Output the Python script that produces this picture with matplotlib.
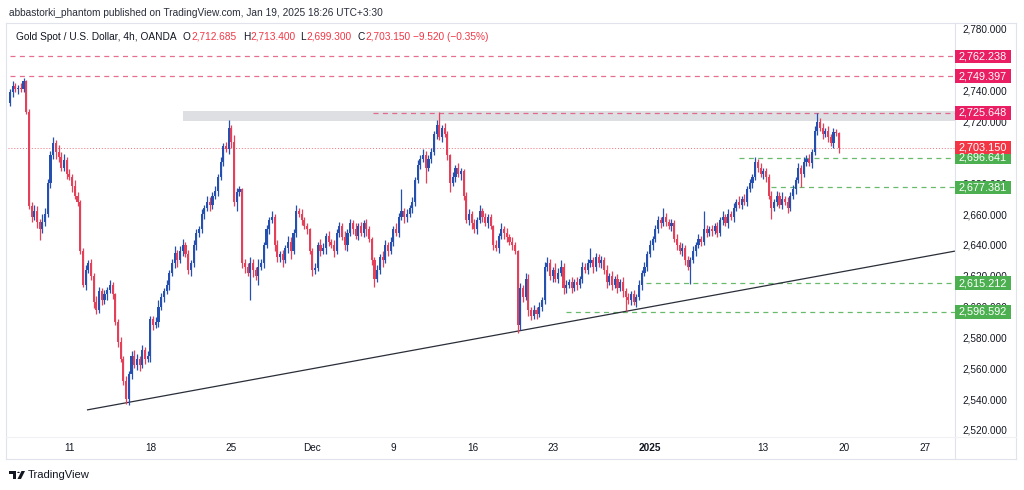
import matplotlib
matplotlib.use("Agg")
import matplotlib.pyplot as plt
from matplotlib.patches import Rectangle, Polygon, Circle
import numpy as np

plt.rcParams['font.family'] = ['Liberation Sans', 'DejaVu Sans']

# ---------------- data ----------------
first_open = 2732.0
closes = [
    2739, 2743, 2741, 2742, 2741, 2746, 2726, 2665, 2658, 2662,
    2655, 2650, 2655, 2660, 2680, 2698, 2706, 2700, 2697, 2690,
    2695, 2686, 2684, 2678, 2672, 2668, 2636, 2614, 2624, 2628,
    2620, 2603, 2598, 2610, 2604, 2608, 2611, 2614, 2608, 2590,
    2577, 2566, 2552, 2540, 2556, 2568, 2562, 2566, 2562, 2572,
    2566, 2568, 2592, 2588, 2590, 2600, 2606, 2610, 2614, 2622,
    2628, 2635, 2630, 2636, 2640, 2634, 2624, 2628, 2640, 2648,
    2650, 2660, 2664, 2668, 2666, 2672, 2675, 2684, 2694, 2704,
    2702, 2716, 2707, 2668, 2674, 2676, 2628, 2626, 2622, 2628,
    2624, 2620, 2626, 2628, 2640, 2650, 2656, 2658, 2640, 2632,
    2634, 2630, 2638, 2642, 2636, 2648, 2662, 2660, 2656, 2652,
    2650, 2636, 2624, 2625, 2640, 2636, 2638, 2646, 2642, 2640,
    2636, 2648, 2652, 2645, 2640, 2648, 2654, 2650, 2646, 2652,
    2648, 2654, 2650, 2644, 2630, 2618, 2624, 2632, 2630, 2640,
    2636, 2642, 2650, 2648, 2658, 2662, 2658, 2660, 2664, 2668,
    2682, 2692, 2696, 2698, 2690, 2696, 2700, 2712, 2718, 2710,
    2716, 2712, 2698, 2680, 2684, 2690, 2686, 2688, 2672, 2656,
    2660, 2654, 2650, 2656, 2662, 2658, 2654, 2658, 2652, 2640,
    2638, 2646, 2650, 2648, 2645, 2642, 2640, 2636, 2588, 2612,
    2606, 2618, 2598, 2594, 2598, 2595, 2600, 2604, 2626, 2628,
    2620, 2624, 2618, 2622, 2626, 2612, 2614, 2616, 2612, 2616,
    2614, 2618, 2626, 2624, 2628, 2630, 2626, 2632, 2628, 2630,
    2624, 2616, 2620, 2614, 2618, 2612, 2616, 2610, 2606, 2604,
    2608, 2603, 2606, 2614, 2622, 2626, 2634, 2640, 2644, 2650,
    2656, 2654, 2658, 2655, 2652, 2654, 2644, 2640, 2636, 2638,
    2630, 2626, 2630, 2636, 2640, 2644, 2642, 2650, 2648, 2650,
    2649, 2652, 2648, 2656, 2658, 2654, 2660, 2658, 2664, 2668,
    2666, 2670, 2668, 2676, 2680, 2684, 2694, 2690, 2686, 2688,
    2684, 2672, 2664, 2668, 2672, 2666, 2670, 2668, 2664, 2672,
    2676, 2682, 2690, 2686, 2694, 2696, 2693, 2700, 2714, 2720,
    2716, 2712, 2714, 2710, 2706, 2713, 2712.685, 2703.15,
]
upper_wick = [
    2, 3, 2, 2, 3, 2, 1, 2, 3, 4,
    3, 2, 5, 4, 3, 3, 4, 2, 5, 3,
    4, 2, 3, 2, 4, 2, 1, 2, 3, 2,
    3, 2, 4, 3, 2, 3, 2, 3, 2, 1,
    2, 3, 2, 3, 2, 3, 4, 3, 2, 3,
    2, 3, 2, 2, 3, 4, 3, 2, 3, 2,
    3, 4, 2, 3, 4, 2, 3, 2, 3, 2,
    2, 3, 2, 4, 3, 2, 3, 2, 3, 2,
    3, 5, 2, 4, 3, 2, 1, 3, 2, 4,
    3, 2, 5, 3, 2, 3, 2, 4, 2, 3,
    2, 3, 2, 4, 3, 2, 4, 2, 3, 2,
    2, 1, 2, 3, 2, 4, 3, 2, 3, 2,
    3, 2, 3, 2, 4, 2, 3, 2, 4, 2,
    3, 2, 3, 2, 1, 2, 3, 2, 4, 3,
    2, 3, 2, 4, 3, 14, 2, 3, 2, 3,
    2, 3, 2, 4, 3, 2, 3, 2, 3, 8,
    2, 3, 2, 1, 3, 2, 3, 2, 1, 2,
    3, 2, 3, 2, 4, 2, 3, 2, 2, 1,
    3, 2, 4, 2, 3, 2, 3, 2, 1, 3,
    2, 4, 3, 2, 3, 2, 3, 2, 3, 4,
    3, 2, 4, 3, 4, 2, 3, 2, 3, 2,
    3, 2, 3, 2, 3, 8, 2, 3, 2, 3,
    2, 3, 2, 3, 2, 3, 2, 3, 2, 3,
    2, 3, 2, 3, 2, 3, 2, 3, 2, 3,
    3, 2, 6, 3, 2, 3, 2, 3, 2, 3,
    2, 3, 2, 3, 2, 3, 2, 12, 3, 2,
    3, 2, 3, 2, 4, 2, 3, 2, 3, 2,
    4, 2, 3, 2, 3, 2, 3, 2, 3, 2,
    2, 2, 3, 2, 3, 2, 4, 2, 3, 2,
    3, 2, 3, 2, 3, 2, 3, 2, 3, 5.6,
    2, 3, 2, 3, 2, 3, 2, 0.715,
]
lower_wick = [
    2, 3, 2, 3, 2, 2, 1, 2, 3, 2,
    4, 7, 2, 3, 2, 3, 2, 4, 3, 2,
    2, 3, 2, 4, 2, 3, 2, 1, 3, 2,
    3, 4, 3, 2, 3, 2, 4, 2, 3, 2,
    3, 2, 3, 3, 4, 3, 2, 3, 4, 2,
    3, 2, 4, 3, 2, 3, 2, 3, 2, 3,
    2, 3, 4, 2, 3, 2, 3, 4, 2, 3,
    3, 2, 3, 2, 4, 3, 2, 3, 2, 3,
    2, 3, 4, 3, 6, 2, 3, 4, 2, 18,
    5, 3, 6, 2, 3, 2, 3, 2, 4, 3,
    3, 4, 2, 3, 5, 2, 3, 2, 3, 2,
    3, 2, 4, 3, 2, 3, 2, 4, 3, 2,
    4, 2, 3, 2, 3, 4, 2, 3, 2, 3,
    2, 3, 4, 2, 3, 5, 2, 3, 4, 2,
    3, 2, 3, 2, 3, 2, 4, 3, 2, 3,
    3, 2, 3, 2, 10, 2, 3, 2, 3, 2,
    3, 2, 3, 6, 2, 3, 2, 4, 3, 2,
    3, 4, 2, 3, 2, 3, 2, 3, 2, 3,
    2, 3, 2, 4, 3, 2, 3, 2, 5, 3,
    3, 2, 4, 3, 2, 3, 2, 3, 2, 3,
    3, 4, 2, 3, 2, 4, 3, 2, 3, 2,
    3, 2, 3, 2, 3, 2, 4, 3, 2, 3,
    3, 4, 2, 3, 2, 3, 2, 4, 9, 2,
    3, 2, 3, 2, 3, 2, 3, 2, 3, 2,
    2, 3, 2, 3, 2, 3, 2, 3, 2, 3,
    3, 2, 11.4, 2, 3, 2, 3, 2, 3, 2,
    3, 2, 3, 2, 3, 2, 3, 2, 3, 2,
    2, 3, 2, 3, 2, 3, 2, 3, 2, 3,
    3, 2, 7, 2, 3, 2, 3, 2, 3, 2,
    2, 3, 2, 8.6, 2, 3, 2, 3, 2, 3,
    2, 3, 2, 3, 2, 3, 2, 3.85,
]

time_tick_pos = [22, 52, 82, 112, 142, 171.5, 201, 237, 279, 309, 339]
time_tick_labels = ["11", "18", "25", "Dec", "9", "16", "23", "2025", "13", "20", "27"]
time_tick_bold = ["2025"]

# visible price-scale ticks (2,700 and 2,760 are fully hidden by labels in the reference)
price_ticks = [2520, 2540, 2560, 2580, 2600, 2620, 2640, 2660, 2680,
               2720, 2740, 2780]

level_prices = [2762.238, 2749.397, 2725.648, 2696.641, 2677.381, 2615.212, 2596.592]
level_starts = [0, 0, 134.5, 270, 282, 235.5, 206]
level_kinds = ["res", "res", "res", "sup", "sup", "sup", "sup"]

last_price = 2703.150
zone_low, zone_high, zone_start = 2720.5, 2726.8, 64
trend_x = [28.5, 350]
trend_y = [2533.0, 2636.0]

header_text = "abbastorki_phantom published on TradingView.com, Jan 19, 2025 18:26 UTC+3:30"
symbol_text = "Gold Spot / U.S. Dollar, 4h, OANDA"
ohlc_keys = ["O", "H", "L", "C"]
ohlc_vals = ["2,712.685", "2,713.400", "2,699.300", "2,703.150"]
change_text = "\u22129.520 (\u22120.35%)"

# ---------------- style ----------------
W, H = 1024, 490
UP = "#2650B0"
DOWN = "#E4405A"
PINK = "#E91E63"
REDLBL = "#F23645"
GREEN = "#4CAF50"
TXT = "#131722"
BORDER = "#E0E3EB"

fig = plt.figure(figsize=(W / 100, H / 100), dpi=100)
fig.patch.set_facecolor("white")

L_px, R_px, T_px, B_px = 8, 955, 23, 437
ax = fig.add_axes([L_px / W, 1 - B_px / H, (R_px - L_px) / W, (B_px - T_px) / H])
ax.set_facecolor("white")

px_per_unit = (430 - 29) / (2780 - 2520)
y_top = 2780 + (29 - T_px) / px_per_unit
y_bot = 2520 - (B_px - 430) / px_per_unit
ax.set_ylim(y_bot, y_top)
bar_px = 2.7
x_left = -(10 - L_px) / bar_px
x_right = (R_px - 10) / bar_px
ax.set_xlim(x_left, x_right)

# candles
c = np.array(closes, dtype=float)
o = np.concatenate([[first_open], c[:-1]])
hi = np.maximum(o, c) + np.array(upper_wick, dtype=float)
lo = np.minimum(o, c) - np.array(lower_wick, dtype=float)
x = np.arange(len(c))
cols = np.where(c >= o, UP, DOWN)

# zone
ax.add_patch(Rectangle((zone_start, zone_low), x_right - zone_start, zone_high - zone_low,
                       facecolor="#DEDFE3", edgecolor="none", zorder=1))

# horizontal levels
for p, s, k in zip(level_prices, level_starts, level_kinds):
    col = "#E2557A" if k == "res" else "#4CAF50"
    ax.plot([s, x_right], [p, p], color=col, lw=0.9, ls=(0, (4, 3.5)), zorder=2,
            alpha=0.85, snap=True)
ax.plot([x_left, x_right], [last_price, last_price], color="#F0707E", lw=0.7,
        ls=(0, (1, 2)), zorder=2)

# trend line
ax.plot(trend_x, trend_y, color="#2A2E39", lw=0.9, zorder=2, solid_capstyle="butt")

ax.vlines(x, lo, hi, colors=cols, lw=0.9, zorder=3)
body = np.maximum(np.abs(c - o), 0.6)
ax.bar(x, body, bottom=np.minimum(o, c), width=0.8, color=cols, linewidth=0, zorder=4)

# axes styling
for sp in ax.spines.values():
    sp.set_visible(False)
ax.yaxis.tick_right()
ax.set_yticks(price_ticks)
ax.set_yticklabels([f"{v:,.3f}" for v in price_ticks])
ax.tick_params(axis="y", length=0, pad=5.2, labelsize=7.2, labelcolor=TXT)
ax.set_xticks(time_tick_pos)
ax.set_xticklabels(time_tick_labels)
ax.tick_params(axis="x", length=0, pad=4.0, labelsize=7.2, labelcolor=TXT)
for lab in ax.get_xticklabels():
    if lab.get_text() in time_tick_bold:
        lab.set_fontweight("bold")
ax.grid(False)

# frame lines
def hline_px(y, x0, x1, col=BORDER, lw=0.8):
    fig.add_artist(plt.Line2D([x0 / W, x1 / W], [1 - y / H, 1 - y / H], color=col, lw=lw))

def vline_px(xp, y0, y1, col=BORDER, lw=0.8):
    fig.add_artist(plt.Line2D([xp / W, xp / W], [1 - y0 / H, 1 - y1 / H], color=col, lw=lw))

hline_px(T_px, 6, 1016)
hline_px(459, 6, 1016)
vline_px(6, T_px, 459)
vline_px(1016, T_px, 459)
vline_px(R_px, T_px, 459)
hline_px(B_px, 6, 1016, col="#F0F1F4")

# price label boxes
fig.canvas.draw()
def price_to_px(p):
    return H - ax.transData.transform((0, p))[1]

box_specs = [(p, PINK if k == "res" else GREEN) for p, k in zip(level_prices, level_kinds)]
box_specs.append((last_price, REDLBL))
for p, col in box_specs:
    yc = price_to_px(p)
    h = 13.5
    fig.add_artist(Rectangle((R_px / W, 1 - (yc + h / 2) / H), 56 / W, h / H,
                             facecolor=col, edgecolor="none", zorder=5))
    fig.text((R_px + 28) / W, 1 - yc / H, f"{p:,.3f}", color="white", fontsize=7.8,
             ha="center", va="center", zorder=6)

renderer = fig.canvas.get_renderer()

def put_text(xp, yp, s, color, size, weight="normal", target_w=None):
    t = fig.text(xp / W, 1 - yp / H, s, color=color, fontsize=size, ha="left",
                 va="center", fontweight=weight)
    if target_w is not None:
        w = t.get_window_extent(renderer).width
        t.set_fontsize(size * target_w / w)
    return t

# header
put_text(9, 13.5, header_text, "#2A2E39", 8, target_w=376)

# legend row
t = put_text(15.7, 36.8, symbol_text, TXT, 7.5, target_w=160.3)
fs = t.get_fontsize()
starts = [182.7, 242.7, 300.0, 357.3]
for k, v, xs in zip(ohlc_keys, ohlc_vals, starts):
    tk = put_text(xs, 36.8, k, TXT, fs)
    wk = tk.get_window_extent(renderer).width
    put_text(xs + wk + 0.5, 36.8, v, REDLBL, fs)
put_text(413, 36.8, change_text, REDLBL, fs)

# footer logo
lx, ly = 9, 475
fig.add_artist(Polygon([[lx / W, 1 - (ly - 4) / H], [(lx + 7) / W, 1 - (ly - 4) / H],
                        [(lx + 7) / W, 1 - (ly + 4) / H], [(lx + 4.3) / W, 1 - (ly + 4) / H],
                        [(lx + 4.3) / W, 1 - (ly - 1.5) / H], [lx / W, 1 - (ly - 1.5) / H]],
                       closed=True, facecolor="#131722", edgecolor="none"))
fig.add_artist(Circle(((lx + 9.5) / W, 1 - (ly - 2.6) / H), 1.3 / W, facecolor="#131722",
                      edgecolor="none", transform=fig.transFigure))
fig.add_artist(Polygon([[(lx + 12.5) / W, 1 - (ly - 4) / H], [(lx + 16) / W, 1 - (ly - 4) / H],
                        [(lx + 12) / W, 1 - (ly + 4) / H], [(lx + 8.5) / W, 1 - (ly + 4) / H]],
                       closed=True, facecolor="#131722", edgecolor="none"))
put_text(28, ly, "TradingView", "#131722", 8, target_w=62)

fig.savefig("out.png", dpi=100, facecolor="white")
